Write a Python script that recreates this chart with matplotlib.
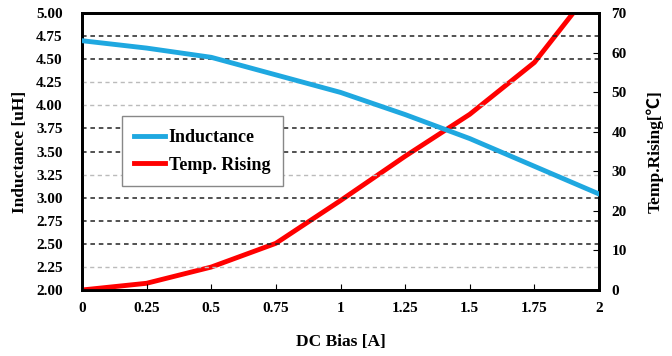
import matplotlib
matplotlib.use("Agg")
import matplotlib.pyplot as plt
import numpy as np

dc_bias = [0, 0.25, 0.5, 0.75, 1.0, 1.25, 1.5, 1.75, 2.0]
inductance = [4.70, 4.62, 4.52, 4.33, 4.14, 3.90, 3.64, 3.34, 3.04]
temp_bias = [0, 0.25, 0.5, 0.75, 1.0, 1.25, 1.5, 1.75, 1.9, 2.0]
temp_rise = [0, 1.7, 5.8, 11.8, 22.6, 33.8, 44.4, 57.5, 70, 78]

x_ticks = [0, 0.25, 0.5, 0.75, 1, 1.25, 1.5, 1.75, 2]
x_labels = ['0', '0.25', '0.5', '0.75', '1', '1.25', '1.5', '1.75', '2']
left_ticks = [2.00, 2.25, 2.50, 2.75, 3.00, 3.25, 3.50, 3.75, 4.00, 4.25, 4.50, 4.75, 5.00]
right_ticks = [0, 10, 20, 30, 40, 50, 60, 70]
dark_grid = [2.50, 2.75, 3.00, 3.50, 3.75, 4.50, 4.75]
light_grid = [2.25, 3.25, 4.00, 4.25]

serif = ['Liberation Serif', 'DejaVu Serif']
plt.rcParams['font.family'] = serif
plt.rcParams['font.weight'] = 'bold'

fig = plt.figure(figsize=(6.72, 3.56), dpi=100)
ax = fig.add_axes([82/672, 1-290/356, 517/672, 277/356])
ax2 = ax.twinx()

for g in dark_grid:
    ax.axhline(g, color='#222222', lw=1.1, ls=(0, (3, 2.5)), zorder=1)
for g in light_grid:
    ax.axhline(g, color='#bbbbbb', lw=1.0, ls=(0, (3, 2.5)), zorder=1)

l1, = ax.plot(dc_bias, inductance, color='#1fa8e0', lw=3.5, zorder=3, label='Inductance')
l2, = ax2.plot(temp_bias, temp_rise, color='#ff0000', lw=3.5, zorder=3, label='Temp. Rising', clip_on=True)

ax.set_xlim(0, 2)
ax.set_ylim(2.0, 5.0)
ax2.set_ylim(0, 70)
ax.set_xticks(x_ticks)
ax.set_xticklabels(x_labels)
ax.set_yticks(left_ticks)
ax.set_yticklabels([f'{v:.2f}' for v in left_ticks])
ax2.set_yticks(right_ticks)

ax.tick_params(axis='x', direction='in', length=4, pad=9, labelsize=11)
ax.tick_params(axis='y', length=0, pad=14, labelsize=11)
ax2.tick_params(axis='y', direction='in', length=4, pad=9, labelsize=11)
for a in (ax, ax2):
    for lab in a.get_xticklabels() + a.get_yticklabels():
        lab.set_fontweight('bold')
    for s in a.spines.values():
        s.set_linewidth(2)
        s.set_color('black')

ax.set_xlabel('DC Bias [A]', fontsize=12.5, fontweight='bold', labelpad=13)
ax.set_ylabel('Inductance [uH]', fontsize=12.5, fontweight='bold', labelpad=6)
ax2.set_ylabel('Temp.Rising[\u2103]', fontsize=12.5, fontweight='bold', labelpad=14,
               family=['Liberation Serif', 'Noto Sans CJK SC'])

leg = ax.legend(handles=[l1, l2], loc='upper left', bbox_to_anchor=(0.077, 0.627),
                borderaxespad=0,
                prop={'family': serif, 'weight': 'bold', 'size': 13},
                fancybox=False, edgecolor='#888888', framealpha=1,
                handlelength=1.7, handletextpad=0.2, borderpad=0.7, labelspacing=0.6)
leg.get_frame().set_linewidth(1.0)
leg.set_zorder(5)
ax.set_zorder(ax2.get_zorder() + 1)
ax.patch.set_visible(False)

fig.savefig('out.png', dpi=100)
